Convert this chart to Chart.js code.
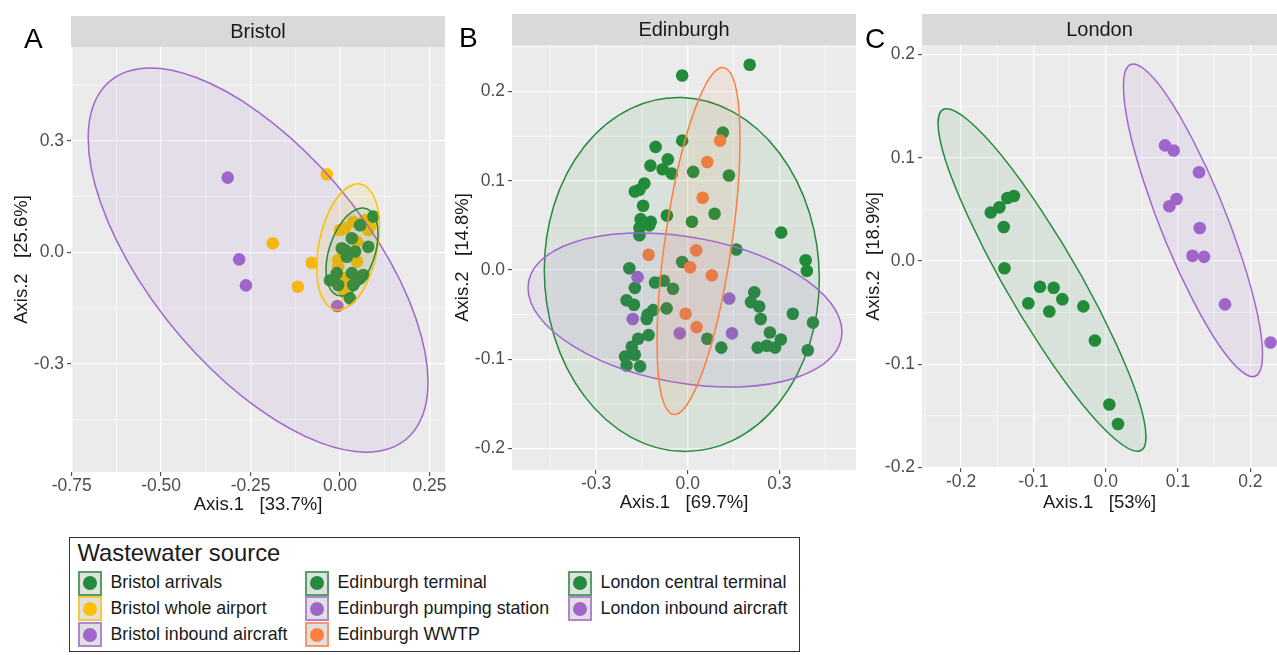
<!DOCTYPE html>
<html>
<head>
<meta charset="utf-8">
<script src="https://cdn.jsdelivr.net/npm/chart.js@4/dist/chart.umd.min.js"></script>
<style>
  body { margin: 0; background: #fff; width: 1277px; height: 655px; overflow: hidden; position: relative;
         font-family: 'Liberation Sans', Arial, sans-serif; }
  canvas { position: absolute; top: 0; }
  #legend { position: absolute; left: 69px; top: 537px; width: 729px; height: 113px; border: 1.5px solid #333; }
  .lgTitle { position: absolute; font-size: 23.8px; color: #1a1a1a; line-height: 1; }
  .lgKey { position: absolute; width: 20px; height: 21px; background: #e0e0e0; border: 2px solid; }
  .lgKey span { position: absolute; left: 3px; top: 3.5px; width: 14px; height: 14px; border-radius: 50%; }
  .lgText { position: absolute; font-size: 17.8px; color: #1a1a1a; line-height: 1; white-space: nowrap; }
</style>
</head>
<body>
<canvas id="bristol" width="450" height="520" style="left:0"></canvas>
<canvas id="edinburgh" width="420" height="520" style="left:440px"></canvas>
<canvas id="london" width="427" height="520" style="left:850px"></canvas>
<div id="legend"></div>
<script>
// ---- values ----
const panelTitles = ['Bristol', 'Edinburgh', 'London'];
const panelLetters = ['A', 'B', 'C'];
const xTitles = ['Axis.1   [33.7%]', 'Axis.1   [69.7%]', 'Axis.1   [53%]'];
const yTitles = ['Axis.2   [25.6%]', 'Axis.2   [14.8%]', 'Axis.2   [18.9%]'];

const bristolXTicks = [-0.75, -0.5, -0.25, 0, 0.25];
const bristolYTicks = [-0.3, 0, 0.3];
const bristolXMinor = [-0.625, -0.375, -0.125, 0.125];
const bristolYMinor = [-0.45, -0.15, 0.15, 0.45];
const edinburghXTicks = [-0.3, 0, 0.3];
const edinburghYTicks = [-0.2, -0.1, 0, 0.1, 0.2];
const edinburghXMinor = [-0.45, -0.15, 0.15, 0.45];
const edinburghYMinor = [-0.15, -0.05, 0.05, 0.15, 0.25];
const londonXTicks = [-0.2, -0.1, 0, 0.1, 0.2];
const londonYTicks = [-0.2, -0.1, 0, 0.1, 0.2];
const londonXMinor = [-0.25, -0.15, -0.05, 0.05, 0.15];
const londonYMinor = [-0.15, -0.05, 0.05, 0.15];

const bristolArrivals = [[0.033,0.038],[0.093,0.096],[0.056,0.073],[0.005,0.011],[0.019,-0.012],[0.042,0.002],
  [0.079,0.015],[-0.028,-0.075],[-0.009,-0.056],[0.033,-0.056],[0.056,-0.070],[0.037,-0.088],[0.065,-0.061],
  [0.028,-0.124],[-0.005,-0.088],[0.014,0.006]];
const bristolWhole = [[-0.037,0.210],[-0.188,0.024],[-0.079,-0.028],[-0.118,-0.0925],[0.014,0.065],[0.037,0.082],
  [0.070,0.087],[0.084,0.069],[0.047,0.029],[-0.005,-0.021],[0.047,-0.025],[-0.005,-0.039],[0.014,-0.070],
  [0.009,-0.101],[0.019,-0.115],[0.000,0.060],[0.079,0.060]];
const bristolInbound = [[-0.314,0.201],[-0.282,-0.019],[-0.263,-0.089],[-0.0075,-0.1445]];

const edinburghTerminal = [[-0.018,0.218],[0.203,0.230],[0.115,0.154],[-0.018,0.145],[-0.105,0.138],[-0.065,0.124],
  [-0.122,0.117],[-0.082,0.113],[-0.052,0.108],[0.018,0.110],[0.135,0.106],[-0.142,0.097],[-0.173,0.088],
  [-0.158,0.090],[-0.146,0.072],[-0.068,0.061],[0.014,0.054],[0.088,0.063],[-0.154,0.057],[-0.121,0.054],
  [-0.126,0.050],[-0.158,0.047],[-0.158,0.039],[0.306,0.042],[0.159,0.023],[-0.018,0.009],[0.386,0.011],
  [0.390,-0.001],[-0.191,0.002],[-0.173,-0.020],[-0.107,-0.014],[-0.078,-0.012],[-0.048,-0.021],[-0.200,-0.034],
  [-0.176,-0.039],[-0.069,-0.043],[-0.131,-0.050],[-0.113,-0.045],[-0.134,-0.055],[0.218,-0.025],[0.207,-0.036],
  [0.234,-0.041],[0.239,-0.055],[0.344,-0.049],[0.410,-0.059],[-0.128,-0.073],[-0.162,-0.077],[0.064,-0.077],
  [0.110,-0.087],[0.269,-0.070],[0.305,-0.078],[0.229,-0.087],[0.259,-0.085],[0.286,-0.087],[0.393,-0.090],
  [-0.183,-0.086],[-0.205,-0.097],[-0.173,-0.095],[-0.200,-0.107],[-0.156,-0.108]];
const edinburghPumping = [[-0.164,-0.008],[0.136,-0.032],[-0.180,-0.055],[-0.026,-0.071],[0.145,-0.071]];
const edinburghWwtp = [[0.106,0.145],[0.064,0.121],[0.049,0.081],[-0.128,0.017],[0.028,0.022],[0.008,0.003],
  [0.079,-0.006],[-0.007,-0.049],[0.029,-0.064]];

const londonCentral = [[-0.159,0.047],[-0.147,0.052],[-0.136,0.061],[-0.127,0.063],[-0.141,0.033],[-0.140,-0.007],
  [-0.091,-0.025],[-0.072,-0.026],[-0.060,-0.037],[-0.107,-0.041],[-0.078,-0.049],[-0.031,-0.044],[-0.015,-0.077],
  [0.005,-0.139],[0.017,-0.158]];
const londonInbound = [[0.082,0.112],[0.094,0.107],[0.129,0.086],[0.088,0.053],[0.098,0.060],[0.130,0.032],
  [0.120,0.005],[0.136,0.004],[0.165,-0.042],[0.228,-0.079]];

// ellipses: centre x, centre y, rightmost point x, y, top of the vertical through the centre (y)
const bristolArrivalsEllipse = [0.0335, 0.0008, 0.1062, 0.0492, 0.1087];
const bristolWholeEllipse = [0.0224, 0.0143, 0.110, 0.068, 0.175];
const bristolInboundEllipse = [-0.229, -0.021, 0.246, -0.349, 0.378];
const edinburghTerminalEllipse = [-0.0193, -0.0050, 0.4308, -0.0100, 0.1933];
const edinburghPumpingEllipse = [-0.0088, -0.0448, 0.505, -0.0695, 0.0379];
const edinburghWwtpEllipse = [0.0354, 0.0325, 0.1712, 0.1457, 0.1907];
const londonCentralEllipse = [-0.0881, -0.0184, 0.0557, -0.1705, 0.0481];
const londonInboundEllipse = [0.1207, 0.0394, 0.2169, -0.0907, 0.117];

const legendNames = [['Bristol arrivals', 'Bristol whole airport', 'Bristol inbound aircraft'],
  ['Edinburgh terminal', 'Edinburgh pumping station', 'Edinburgh WWTP'],
  ['London central terminal', 'London inbound aircraft']];

// ---- styles ----
const GREEN = '#238b3b', YELLOW = '#ffc000', PURPLE = '#a066cc', ORANGE = '#ff7f3f';
const legendColors = [[GREEN, YELLOW, PURPLE], [GREEN, PURPLE, ORANGE], [GREEN, PURPLE]];

Chart.defaults.font.family = "'Liberation Sans', Arial, sans-serif";

function alpha(hex, a) {
	const n = parseInt(hex.slice(1), 16);
	return 'rgba(' + (n >> 16) + ',' + ((n >> 8) & 255) + ',' + (n & 255) + ',' + a + ')';
}

function panelPlugin(cfg) {
	return {
		id: 'panel',
		beforeDraw(chart) {
			const {ctx, chartArea: a, scales} = chart;
			ctx.save();
			ctx.fillStyle = '#ebebeb';
			ctx.fillRect(a.left, a.top, a.right - a.left, a.bottom - a.top);
			ctx.strokeStyle = '#fff';
			ctx.lineWidth = 0.6;
			ctx.beginPath();
			cfg.xMinor.forEach(v => {
				const px = scales.x.getPixelForValue(v);
				ctx.moveTo(px, a.top); ctx.lineTo(px, a.bottom);
			});
			cfg.yMinor.forEach(v => {
				const py = scales.y.getPixelForValue(v);
				ctx.moveTo(a.left, py); ctx.lineTo(a.right, py);
			});
			ctx.stroke();
			// facet strip
			ctx.fillStyle = '#d9d9d9';
			ctx.fillRect(a.left, cfg.stripTop, a.right - a.left, a.top - cfg.stripTop);
			ctx.fillStyle = '#1a1a1a';
			ctx.font = "20px 'Liberation Sans', Arial, sans-serif";
			ctx.textAlign = 'center';
			ctx.textBaseline = 'middle';
			ctx.fillText(cfg.title, (a.left + a.right) / 2, (cfg.stripTop + a.top) / 2 + 1);
			// panel letter
			ctx.fillStyle = '#000';
			ctx.font = "28px 'Liberation Sans', Arial, sans-serif";
			ctx.textAlign = 'left';
			ctx.textBaseline = 'alphabetic';
			ctx.fillText(cfg.letter, cfg.letterX, cfg.letterY);
			ctx.restore();
		},
		afterDatasetsDraw(chart) {
			const {ctx, chartArea: a, scales: {x, y}} = chart;
			ctx.save();
			ctx.beginPath();
			ctx.rect(a.left, a.top, a.right - a.left, a.bottom - a.top);
			ctx.clip();
			cfg.ellipses.forEach(([e, color]) => {
				const cx = x.getPixelForValue(e[0]), cy = y.getPixelForValue(e[1]);
				const ux = x.getPixelForValue(e[2]) - cx, uy = y.getPixelForValue(e[3]) - cy;
				const vy = y.getPixelForValue(e[4]) - cy;
				ctx.beginPath();
				ctx.save();
				ctx.transform(ux, uy, 0, vy, cx, cy);
				ctx.arc(0, 0, 1, 0, 2 * Math.PI);
				ctx.restore();
				ctx.fillStyle = alpha(color, 0.09);
				ctx.fill();
				ctx.strokeStyle = color;
				ctx.lineWidth = 1.5;
				ctx.stroke();
			});
			ctx.restore();
		}
	};
}

function makePanel(id, cfg) {
	const fmtX = v => (Math.abs(v) < 1e-9 ? 0 : v).toFixed(cfg.xDigits);
	const fmtY = v => (Math.abs(v) < 1e-9 ? 0 : v).toFixed(1);
	new Chart(document.getElementById(id), {
		type: 'scatter',
		data: {
			datasets: cfg.series.map(([pts, color]) => ({
				data: pts.map(([px, py]) => ({x: px, y: py})),
				backgroundColor: color,
				borderWidth: 0,
				pointRadius: 6.3,
				pointHoverRadius: 6.3,
				clip: 0
			}))
		},
		options: {
			responsive: false,
			animation: false,
			events: [],
			layout: {autoPadding: false, padding: {left: 0, top: cfg.plotTop, right: cfg.padRight, bottom: 0}},
			plugins: {legend: {display: false}, tooltip: {enabled: false}},
			scales: {
				x: {
					type: 'linear', min: cfg.xMin, max: cfg.xMax,
					afterFit: s => { s.height = cfg.xAxisH; },
					afterBuildTicks: s => { s.ticks = cfg.xTicks.map(v => ({value: v})); },
					ticks: {callback: fmtX, color: '#4d4d4d', font: {size: 17.5, lineHeight: 1}, padding: 1,
						autoSkip: false, maxRotation: 0},
					grid: {color: '#fff', lineWidth: 1.3, tickColor: '#333', tickLength: 4, tickWidth: 1},
					border: {display: false},
					title: {display: true, text: cfg.xTitle, color: '#1a1a1a', font: {size: 18.5}, padding: {top: 0, bottom: cfg.xTitlePad}}
				},
				y: {
					type: 'linear', min: cfg.yMin, max: cfg.yMax,
					afterFit: s => { s.width = cfg.yAxisW; },
					afterBuildTicks: s => { s.ticks = cfg.yTicks.map(v => ({value: v})); },
					ticks: {callback: fmtY, color: '#4d4d4d', font: {size: 17.5, lineHeight: 1}, padding: 3, autoSkip: false},
					grid: {color: '#fff', lineWidth: 1.3, tickColor: '#333', tickLength: 4, tickWidth: 1},
					border: {display: false},
					title: {display: true, text: cfg.yTitle, color: '#1a1a1a', font: {size: 18.5}, padding: {top: cfg.yTitlePad, bottom: 0}}
				}
			}
		},
		plugins: [panelPlugin(cfg)]
	});
}

makePanel('bristol', {
	title: panelTitles[0], letter: panelLetters[0], letterX: 24, letterY: 48, stripTop: 16,
	plotTop: 47, padRight: 5, xAxisH: 48, yAxisW: 71, xTitlePad: 4, yTitlePad: 11,
	xMin: -0.752, xMax: 0.2935, yMin: -0.591, yMax: 0.5523, xDigits: 2,
	xTicks: bristolXTicks, yTicks: bristolYTicks, xMinor: bristolXMinor, yMinor: bristolYMinor,
	xTitle: xTitles[0], yTitle: yTitles[0],
	series: [[bristolArrivals, GREEN], [bristolWhole, YELLOW], [bristolInbound, PURPLE]],
	ellipses: [[bristolInboundEllipse, PURPLE], [bristolWholeEllipse, YELLOW], [bristolArrivalsEllipse, GREEN]]
});
makePanel('edinburgh', {
	title: panelTitles[1], letter: panelLetters[1], letterX: 19, letterY: 47, stripTop: 14,
	plotTop: 45, padRight: 4, xAxisH: 50, yAxisW: 72, xTitlePad: 6, yTitlePad: 12,
	xMin: -0.5751, xMax: 0.5509, yMin: -0.2242, yMax: 0.2522, xDigits: 1,
	xTicks: edinburghXTicks, yTicks: edinburghYTicks, xMinor: edinburghXMinor, yMinor: edinburghYMinor,
	xTitle: xTitles[1], yTitle: yTitles[1],
	series: [[edinburghWwtp, ORANGE], [edinburghPumping, PURPLE], [edinburghTerminal, GREEN]],
	ellipses: [[edinburghTerminalEllipse, GREEN], [edinburghPumpingEllipse, PURPLE], [edinburghWwtpEllipse, ORANGE]]
});
makePanel('london', {
	title: panelTitles[2], letter: panelLetters[2], letterX: 15, letterY: 48, stripTop: 14,
	plotTop: 45, padRight: 0, xAxisH: 52, yAxisW: 72, xTitlePad: 6, yTitlePad: 13,
	xMin: -0.2541, xMax: 0.2369, yMin: -0.2006, yMax: 0.2093, xDigits: 1,
	xTicks: londonXTicks, yTicks: londonYTicks, xMinor: londonXMinor, yMinor: londonYMinor,
	xTitle: xTitles[2], yTitle: yTitles[2],
	series: [[londonCentral, GREEN], [londonInbound, PURPLE]],
	ellipses: [[londonCentralEllipse, GREEN], [londonInboundEllipse, PURPLE]]
});

// ---- legend (HTML, page coordinates) ----
const legend = document.getElementById('legend');
const lgColX = [78, 305, 568];
const lgRowY = [583.5, 609, 635];
function place(el, left, top) {
	el.style.left = (left - 69 - 1.5) + 'px';
	el.style.top = (top - 537 - 1.5) + 'px';
	legend.appendChild(el);
}
const title = document.createElement('div');
title.className = 'lgTitle';
title.textContent = 'Wastewater source';
place(title, 78, 541);
legendNames.forEach((col, c) => {
	col.forEach((name, r) => {
		const key = document.createElement('div');
		key.className = 'lgKey';
		key.style.borderColor = alpha(legendColors[c][r], 0.75);
		const dot = document.createElement('span');
		dot.style.background = legendColors[c][r];
		key.appendChild(dot);
		place(key, lgColX[c], lgRowY[r] - 12.5);
		const txt = document.createElement('div');
		txt.className = 'lgText';
		txt.textContent = name;
		place(txt, lgColX[c] + 33, lgRowY[r] - 9);
	});
});
</script>
</body>
</html>
